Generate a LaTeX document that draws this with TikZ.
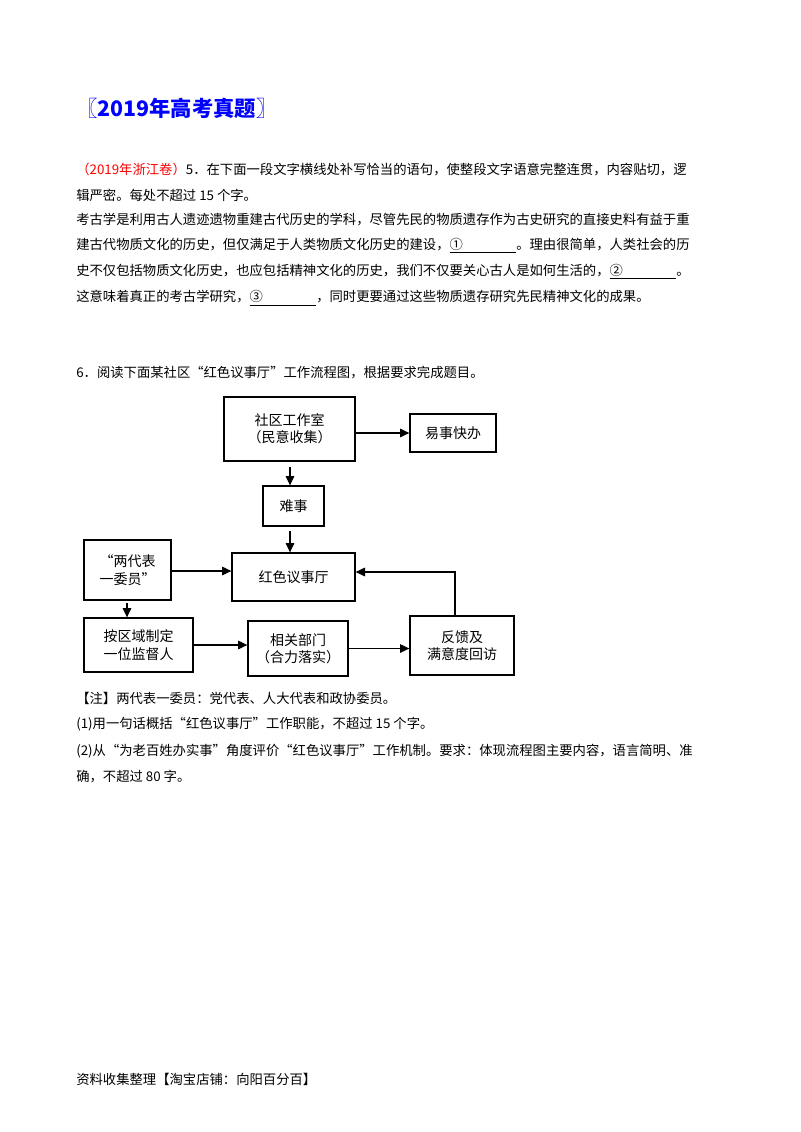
\documentclass[tikz,border=0pt]{standalone}
\usepackage{fontspec}
\setmainfont{Noto Sans CJK SC}
\usetikzlibrary{arrows.meta}
\begin{document}
\begin{tikzpicture}[x=0.75pt,y=-0.75pt,
  txt/.style={anchor=west,inner sep=0pt,font=\fontsize{10pt}{12pt}\selectfont},
  bx/.style={draw,line width=1pt,align=center,font=\fontsize{10.5pt}{13pt}\selectfont,inner sep=0pt},
  ar/.style={line width=0.8pt,-{Triangle[length=7pt,width=6.5pt]}}]
\useasboundingbox[fill=white] (0,0) rectangle (800,1132);
\node[txt,font=\fontsize{16pt}{19pt}\selectfont\bfseries,text=blue] (title) at (76,108) {〖2019年高考真题〗};
\node[txt] (l1) at (76,170) {\textcolor{red}{（2019年浙江卷）}5．在下面一段文字横线处补写恰当的语句，使整段文字语意完整连贯，内容贴切，逻};
\node[txt] (l2) at (76,195) {辑严密。每处不超过 15 个字。};
\node[txt] (l3) at (76,220) {考古学是利用古人遗迹遗物重建古代历史的学科，尽管先民的物质遗存作为古史研究的直接史料有益于重};
\node[txt] (l4) at (76,246) {建古代物质文化的历史，但仅满足于人类物质文化历史的建设，\underline{①\hspace{4em}}。理由很简单，人类社会的历};
\node[txt] (l5) at (76,272) {史不仅包括物质文化历史，也应包括精神文化的历史，我们不仅要关心古人是如何生活的，\underline{②\hspace{4em}}。};
\node[txt] (l6) at (76,298) {这意味着真正的考古学研究，\underline{③\hspace{4em}}，同时更要通过这些物质遗存研究先民精神文化的成果。};
\node[txt] (q6) at (76,373) {6．阅读下面某社区“红色议事厅”工作流程图，根据要求完成题目。};

\node[bx,minimum width=131*0.75pt,minimum height=64*0.75pt] (a) at (289.5,429) {社区工作室\\（民意收集）};
\node[bx,minimum width=86*0.75pt,minimum height=38*0.75pt] (b) at (453,433) {易事快办};
\node[bx,minimum width=61*0.75pt,minimum height=40*0.75pt] (c) at (293.5,506) {难事};
\node[bx,minimum width=123*0.75pt,minimum height=48*0.75pt] (d) at (293.5,577) {红色议事厅};
\node[bx,minimum width=87*0.75pt,minimum height=60*0.75pt] (e) at (127.5,570) {“两代表\\一委员”};
\node[bx,minimum width=109*0.75pt,minimum height=54*0.75pt] (f) at (138.5,645) {按区域制定\\一位监督人};
\node[bx,minimum width=100*0.75pt,minimum height=55*0.75pt] (g) at (298,648.5) {相关部门\\（合力落实）};
\node[bx,minimum width=104*0.75pt,minimum height=59*0.75pt] (h) at (462,645.5) {反馈及\\满意度回访};
\coordinate (tc) at (290,467);
\coordinate (td) at (290,531);
\coordinate (te) at (127,603);
\coordinate (hk) at (455,572);
\draw[ar] (a.east |- b) -- (b.west);
\draw[ar] (tc) -- (c.north -| tc);
\draw[ar] (td) -- (d.north -| td);
\draw[ar] (e.east |- 0,571) -- (d.west |- 0,571);
\draw[ar] (te) -- (f.north -| te);
\draw[ar] (f.east) -- (g.west |- f.east);
\draw[ar] (g.east) -- (h.west |- g.east);
\draw[ar] (h.north -| hk) -- (hk) -- (d.east |- hk);

\node[txt] (n1) at (76,698) {【注】两代表一委员：党代表、人大代表和政协委员。};
\node[txt] (n2) at (76,724) {(1)用一句话概括“红色议事厅”工作职能，不超过 15 个字。};
\node[txt] (n3) at (76,751) {(2)从“为老百姓办实事”角度评价“红色议事厅”工作机制。要求：体现流程图主要内容，语言简明、准};
\node[txt] (n4) at (76,777) {确，不超过 80 字。};
\node[txt] (ft) at (76,1079) {资料收集整理【淘宝店铺：向阳百分百】};
\end{tikzpicture}
\end{document}
